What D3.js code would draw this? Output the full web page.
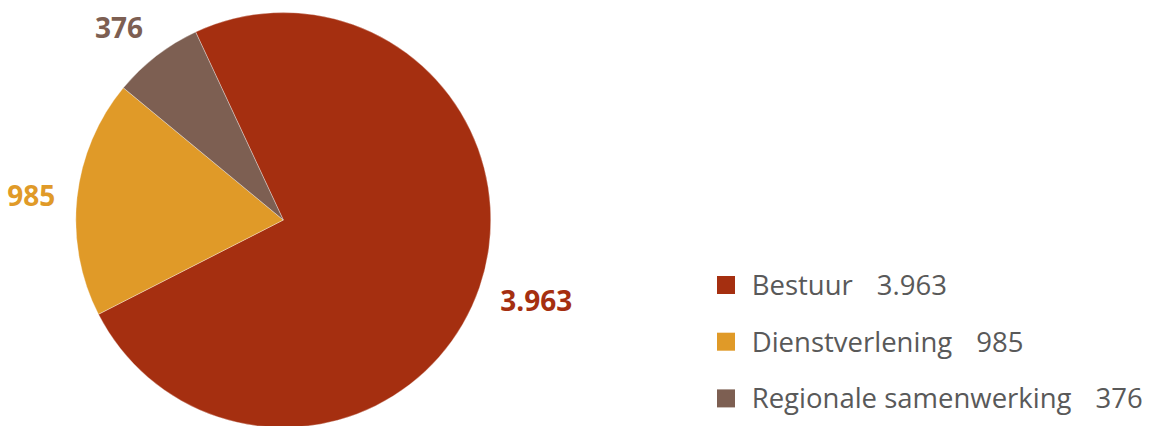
<!DOCTYPE html>
<html>
<head>
<meta charset="utf-8">
<script src="https://cdn.jsdelivr.net/npm/d3@7/dist/d3.min.js"></script>
<style>
  html, body { margin: 0; padding: 0; background: #ffffff; }
  svg { display: block; }
</style>
</head>
<body>
<svg id="chart" width="1151" height="426"></svg>
<script>
// Budget split by programme
const categories = ["Bestuur", "Dienstverlening", "Regionale samenwerking"];
const values = [3963, 985, 376];
const valueLabels = ["3.963", "985", "376"];
const colors = ["#A52F10", "#E09A28", "#7D5F52"];

const svg = d3.select("#chart");

const cx = 283.3, cy = 220, R = 207.5;
const startAngle = -25 * Math.PI / 180;

const pie = d3.pie()
  .sort(null)
  .value(d => d)
  .startAngle(startAngle)
  .endAngle(startAngle + 2 * Math.PI);

const arcs = pie(values);
const arc = d3.arc().innerRadius(0).outerRadius(R);

const g = svg.append("g").attr("transform", `translate(${cx},${cy})`);

g.selectAll("path.slice")
  .data(arcs)
  .join("path")
  .attr("class", "slice")
  .attr("d", arc)
  .attr("fill", (d, i) => colors[i])
  .attr("stroke", "rgba(255,255,255,0.55)")
  .attr("stroke-width", 0.6);

// Value labels placed just outside each slice, anchored on the side facing the pie
const labelR = R + 22;
const labelFont = 28;
g.selectAll("text.value")
  .data(arcs)
  .join("text")
  .attr("class", "value")
  .each(function (d, i) {
    const mid = (d.startAngle + d.endAngle) / 2;
    const s = Math.sin(mid), c = Math.cos(mid);
    const px = labelR * s, py = -labelR * c;
    const anchor = s > 0.2 ? "start" : (s < -0.2 ? "end" : "middle");
    let dy;
    if (c > 0.3) dy = "0.0em";            // label sits above the point
    else if (c < -0.3) dy = "0.6em";      // label hangs below the point
    else dy = "0.4em";                    // vertically centred
    d3.select(this)
      .attr("x", px)
      .attr("y", py)
      .attr("dy", dy)
      .attr("text-anchor", anchor)
      .attr("font-family", "'Open Sans', sans-serif")
      .attr("font-weight", 700)
      .attr("font-size", labelFont)
      .attr("fill", colors[i])
      .text(valueLabels[i]);
  });

// Legend
const legendX = 717, legendY0 = 285, legendStep = 56.7, sw = 18;
const legend = svg.append("g");
const items = legend.selectAll("g.item")
  .data(categories)
  .join("g")
  .attr("class", "item")
  .attr("transform", (d, i) => `translate(${legendX},${legendY0 + i * legendStep})`);

items.append("rect")
  .attr("x", 0)
  .attr("y", -sw / 2)
  .attr("width", sw)
  .attr("height", sw)
  .attr("fill", (d, i) => colors[i]);

const lt = items.append("text")
  .attr("x", 34.7)
  .attr("y", 0)
  .attr("dy", "0.36em")
  .attr("font-family", "'Open Sans', sans-serif")
  .attr("font-size", 27.5)
  .attr("fill", "#595959");
lt.append("tspan").text(d => d);
lt.append("tspan").attr("dx", 24).text((d, i) => valueLabels[i]);
</script>
</body>
</html>
